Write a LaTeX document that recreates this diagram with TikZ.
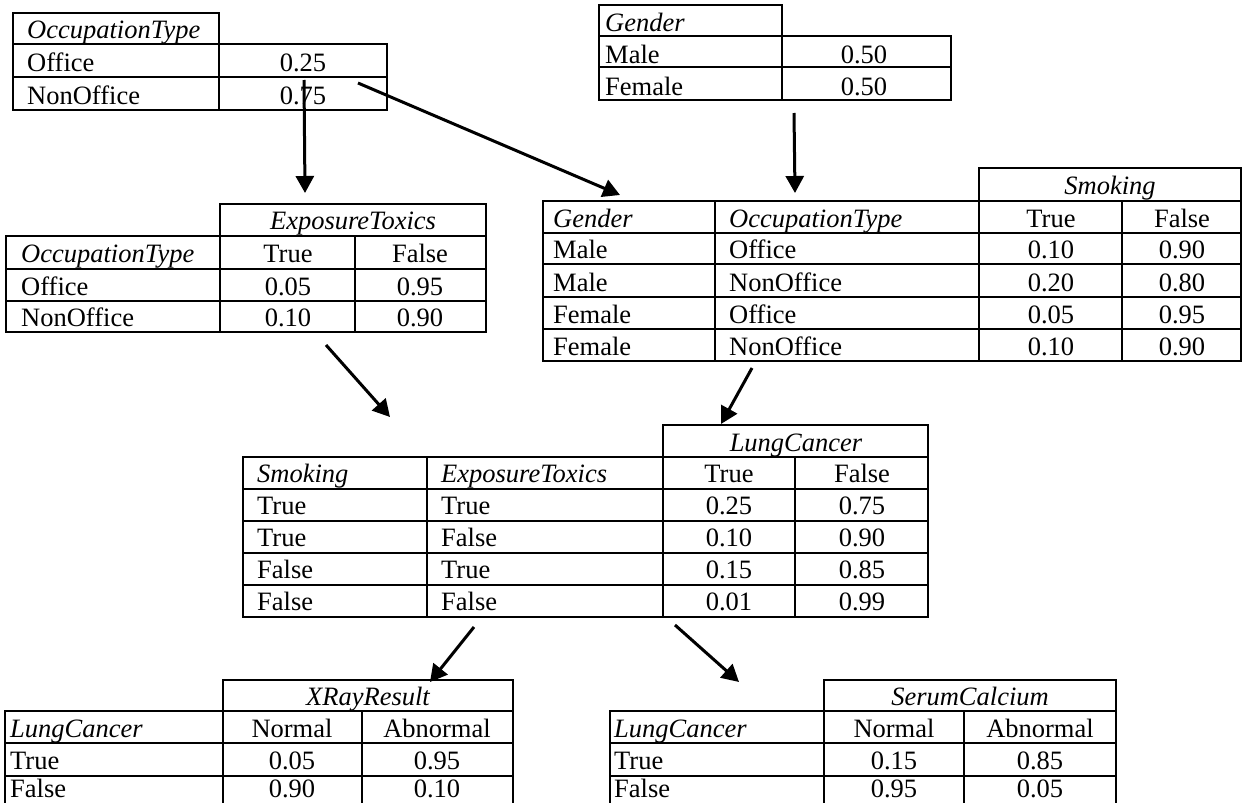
\documentclass[tikz,border=0pt]{standalone}
\usepackage{fontspec}
\setmainfont{Liberation Serif}
\usetikzlibrary{arrows.meta}
\newcommand\tabfont{\fontsize{26.5}{30}\selectfont}

\begin{document}
\begin{tikzpicture}[x=1pt,y=-1pt,font=\tabfont,
  grid/.style={line width=2.4pt},
  lb/.style={anchor=base west,inner sep=0pt},
  nm/.style={anchor=base,inner sep=0pt},
  vr/.style={anchor=base west,inner sep=0pt,font=\tabfont\itshape},
  vc/.style={anchor=base,inner sep=0pt,font=\tabfont\itshape},
  ar/.style={-{Triangle[length=17pt,width=18pt]},line width=3pt}]
\clip (0,0) rectangle (1245,803);
\fill[white] (0,0) rectangle (1245,803);

% OccupationType
\draw[grid] (13,13) rectangle (219,44) (13,44) rectangle (387,110)
  (13,77) -- (387,77) (219,44) -- (219,110);
\node[vr] (occ-h) at (27,38) {OccupationType};
\foreach \s/\p/\y [count=\i] in {Office/0.25/71,NonOffice/0.75/104}{
  \node[lb] (occ-s\i) at (27,\y) {\s};
  \node[nm] (occ-p\i) at (303,\y) {\p};}

% Gender
\draw[grid] (599,5) rectangle (782,36) (599,36) rectangle (951,100)
  (599,67) -- (951,67) (782,36) -- (782,100);
\node[vr] (gen-h) at (605,31) {Gender};
\foreach \s/\p/\y [count=\i] in {Male/0.50/63,Female/0.50/95}{
  \node[lb] (gen-s\i) at (605,\y) {\s};
  \node[nm] (gen-p\i) at (864,\y) {\p};}

% ExposureToxics
\draw[grid] (220,204) rectangle (486,236) (6,236) rectangle (486,332);
\foreach \y in {269,301} \draw[grid] (6,\y) -- (486,\y);
\foreach \x in {220,355} \draw[grid] (\x,236) -- (\x,332);
\node[vc] (exp-h) at (353,229) {ExposureToxics};
\node[vr] (exp-c) at (21,262) {OccupationType};
\node[nm] (exp-t) at (288,262) {True};
\node[nm] (exp-f) at (420,262) {False};
\foreach \s/\a/\b/\y [count=\i] in {Office/0.05/0.95/295,NonOffice/0.10/0.90/326}{
  \node[lb] (exp-s\i) at (21,\y) {\s};
  \node[nm] (exp-a\i) at (288,\y) {\a};
  \node[nm] (exp-b\i) at (420,\y) {\b};}

% Smoking
\draw[grid] (979,168) rectangle (1241,201) (543,201) rectangle (1241,361);
\foreach \y in {233,264,297,329} \draw[grid] (543,\y) -- (1241,\y);
\foreach \x in {715,979,1122} \draw[grid] (\x,201) -- (\x,361);
\node[vc] (smk-h) at (1110,194) {Smoking};
\node[vr] (smk-c1) at (553,227) {Gender};
\node[vr] (smk-c2) at (729,227) {OccupationType};
\node[nm] (smk-t) at (1051,227) {True};
\node[nm] (smk-f) at (1182,227) {False};
\foreach \g/\o/\a/\b/\y [count=\i] in {Male/Office/0.10/0.90/258,Male/NonOffice/0.20/0.80/291,
    Female/Office/0.05/0.95/323,Female/NonOffice/0.10/0.90/355}{
  \node[lb] (smk-g\i) at (553,\y) {\g};
  \node[lb] (smk-o\i) at (729,\y) {\o};
  \node[nm] (smk-a\i) at (1051,\y) {\a};
  \node[nm] (smk-b\i) at (1182,\y) {\b};}

% LungCancer
\draw[grid] (663,425) rectangle (928,457) (243,457) rectangle (928,617);
\foreach \y in {489,521,553,585} \draw[grid] (243,\y) -- (928,\y);
\foreach \x in {427,663,795} \draw[grid] (\x,457) -- (\x,617);
\node[vc] (lc-h) at (796,451) {LungCancer};
\node[vr] (lc-c1) at (257,482) {Smoking};
\node[vr] (lc-c2) at (441,482) {ExposureToxics};
\node[nm] (lc-t) at (729,482) {True};
\node[nm] (lc-f) at (862,482) {False};
\foreach \s/\e/\a/\b/\y [count=\i] in {True/True/0.25/0.75/514,True/False/0.10/0.90/546,
    False/True/0.15/0.85/578,False/False/0.01/0.99/610}{
  \node[lb] (lc-s\i) at (257,\y) {\s};
  \node[lb] (lc-e\i) at (441,\y) {\e};
  \node[nm] (lc-a\i) at (729,\y) {\a};
  \node[nm] (lc-b\i) at (862,\y) {\b};}

% XRayResult
\draw[grid] (223,680) rectangle (513,711) (5,711) rectangle (513,809);
\foreach \y in {743,776} \draw[grid] (5,\y) -- (513,\y);
\foreach \x in {223,362} \draw[grid] (\x,711) -- (\x,809);
\node[vc] (xr-h) at (368,705) {XRayResult};
\node[vr] (xr-c) at (10,737) {LungCancer};
\node[nm] (xr-n) at (292,737) {Normal};
\node[nm] (xr-ab) at (437,737) {Abnormal};
\foreach \s/\a/\b/\y [count=\i] in {True/0.05/0.95/769,False/0.90/0.10/797}{
  \node[lb] (xr-s\i) at (10,\y) {\s};
  \node[nm] (xr-a\i) at (292,\y) {\a};
  \node[nm] (xr-b\i) at (437,\y) {\b};}

% SerumCalcium
\draw[grid] (824,680) rectangle (1116,711) (610,711) rectangle (1116,809);
\foreach \y in {743,776} \draw[grid] (610,\y) -- (1116,\y);
\foreach \x in {824,964} \draw[grid] (\x,711) -- (\x,809);
\node[vc] (sc-h) at (970,705) {SerumCalcium};
\node[vr] (sc-c) at (614,737) {LungCancer};
\node[nm] (sc-n) at (894,737) {Normal};
\node[nm] (sc-ab) at (1040,737) {Abnormal};
\foreach \s/\a/\b/\y [count=\i] in {True/0.15/0.85/769,False/0.95/0.05/797}{
  \node[lb] (sc-s\i) at (614,\y) {\s};
  \node[nm] (sc-a\i) at (894,\y) {\a};
  \node[nm] (sc-b\i) at (1040,\y) {\b};}

% arrows
\coordinate (occ-o1) at (304,80);  \coordinate (exp-in) at (305,193);
\coordinate (occ-o2) at (358,83);  \coordinate (smk-in1) at (620,195);
\coordinate (gen-o) at (794,113);  \coordinate (smk-in2) at (795,193);
\coordinate (exp-o) at (326,345);  \coordinate (lc-in1) at (390,417);
\coordinate (smk-o) at (752,368);  \coordinate (lc-in2) at (721,424);
\coordinate (lc-o1) at (474,627);  \coordinate (xr-in) at (430,682);
\coordinate (lc-o2) at (675,625);  \coordinate (sc-in) at (739,682);
\draw[ar] (occ-o1) -- (exp-in);
\draw[ar] (occ-o2) -- (smk-in1);
\draw[ar] (gen-o) -- (smk-in2);
\draw[ar] (exp-o) -- (lc-in1);
\draw[ar] (smk-o) -- (lc-in2);
\draw[ar] (lc-o1) -- (xr-in);
\draw[ar] (lc-o2) -- (sc-in);
\end{tikzpicture}
\end{document}
